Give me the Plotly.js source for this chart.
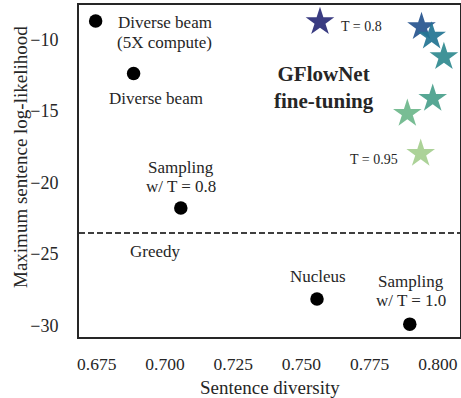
<!DOCTYPE html>
<html>
<head>
<meta charset="utf-8">
<script src="https://cdn.plot.ly/plotly-3.0.1.min.js"></script>
<style>
  html, body { margin: 0; padding: 0; background: #ffffff; }
  #chart { width: 461px; height: 398px; }
</style>
</head>
<body>
<div id="chart"></div>
<script>
// ---- data ----
const baseNames = ['Diverse beam<br>(5X compute)', 'Diverse beam', 'Sampling<br>w/ T = 0.8', 'Nucleus', 'Sampling<br>w/ T = 1.0'];
const baseX = [0.6746, 0.6885, 0.7058, 0.7557, 0.7897];
const baseY = [-8.71, -12.38, -21.78, -28.15, -29.90];
const greedyY = -23.53;
const greedyName = 'Greedy';
const gfnX = [0.7568, 0.7940, 0.7977, 0.8022, 0.7981, 0.7888, 0.7937];
const gfnY = [-8.77, -9.12, -9.78, -11.22, -14.13, -15.18, -17.98];
const gfnTemps = ['T = 0.8', '', '', '', '', '', 'T = 0.95'];
const gfnTitle = 'GFlowNet<br>fine-tuning';
const xTickVals = [0.675, 0.700, 0.725, 0.750, 0.775, 0.800];
const xTickText = ['0.675', '0.700', '0.725', '0.750', '0.775', '0.800'];
const yTickVals = [-10, -15, -20, -25, -30];
const yTickText = ['\u221210', '\u221215', '\u221220', '\u221225', '\u221230'];

// ---- styles ----
const FONT = 'Liberation Serif';
const TXT = '#262626';
const starColors = ['#2b2d78', '#28558f', '#237593', '#318b90', '#4aa08c', '#6eb88c', '#a6cf90'];
const baseLabelShift = [[69, -11], [22.5, -24.5], [0.5, 30.5], [1, 23], [1.7, 33]];
const baseLineGap = [20, 20, 19, 19, 18.5];
const tempLabelStyle = [
  {xanchor: 'left', xshift: 19.3, yshift: -4.8},
  null, null, null, null, null,
  {xanchor: 'right', xshift: -20.7, yshift: -5.7}
];

const traces = [
  {
    type: 'scatter', mode: 'markers', x: baseX, y: baseY,
    marker: {color: '#000000', size: 13.5, line: {width: 0}},
    hoverinfo: 'skip', showlegend: false, cliponaxis: false
  },
  {
    type: 'scatter', mode: 'markers', x: gfnX, y: gfnY,
    marker: {symbol: 'star', color: starColors, size: 21.5, opacity: 0.93, line: {width: 0}},
    hoverinfo: 'skip', showlegend: false, cliponaxis: false
  }
];

const annotations = [];
// multi-line text placed line by line to control the line spacing
function addLines(text, base, gap, xs, ys, font) {
  const lines = text.split('<br>');
  const n = lines.length;
  lines.forEach((ln, k) => {
    annotations.push(Object.assign({
      text: ln, showarrow: false, xanchor: 'center', yanchor: 'middle',
      xshift: xs, yshift: ys + (n - 1) / 2 * gap - k * gap, font: font
    }, base));
  });
}
baseNames.forEach((n, i) => {
  addLines(n, {x: baseX[i], y: baseY[i], xref: 'x', yref: 'y'}, baseLineGap[i],
    baseLabelShift[i][0], baseLabelShift[i][1], {family: FONT, size: 17, color: TXT});
});
annotations.push({
  x: 0.6964, y: greedyY, xref: 'x', yref: 'y', text: greedyName, showarrow: false,
  xanchor: 'center', yanchor: 'middle', yshift: -18.7,
  font: {family: FONT, size: 17, color: TXT}
});
gfnTemps.forEach((t, i) => {
  if (!t) return;
  const s = tempLabelStyle[i];
  annotations.push({
    x: gfnX[i], y: gfnY[i], xref: 'x', yref: 'y', text: t, showarrow: false,
    xanchor: s.xanchor, yanchor: 'middle', xshift: s.xshift, yshift: s.yshift,
    font: {family: FONT, size: 14, color: TXT}
  });
});
annotations.push({
  x: 0.643, y: 0.7515, xref: 'paper', yref: 'paper', text: gfnTitle, showarrow: false,
  xanchor: 'center', yanchor: 'middle',
  font: {family: FONT, size: 21, color: TXT, weight: 'bold'}
});
annotations.push({
  x: 0.5, y: -0.151, xref: 'paper', yref: 'paper', text: 'Sentence diversity', showarrow: false,
  xanchor: 'center', yanchor: 'middle',
  font: {family: FONT, size: 19, color: TXT}
});
annotations.push({
  x: -0.155, y: 0.542, xref: 'paper', yref: 'paper', text: 'Maximum sentence log-likelihood', showarrow: false,
  xanchor: 'center', yanchor: 'middle', textangle: -90,
  font: {family: FONT, size: 19, color: TXT}
});

const layout = {
  width: 461, height: 398,
  margin: {l: 79, r: 1, t: 5, b: 61, pad: 0},
  paper_bgcolor: '#ffffff', plot_bgcolor: '#ffffff',
  font: {family: FONT, color: TXT},
  xaxis: {
    range: [0.6685, 0.8081], tickvals: xTickVals, ticktext: xTickText,
    showgrid: false, zeroline: false, ticks: '',
    showline: true, mirror: true, linecolor: TXT, linewidth: 2,
    tickfont: {family: FONT, size: 17.5, color: TXT}, ticklabelstandoff: 10
  },
  yaxis: {
    range: [-30.80, -7.59], tickvals: yTickVals, ticktext: yTickText,
    showgrid: false, zeroline: false, ticks: '',
    showline: true, mirror: true, linecolor: TXT, linewidth: 2,
    tickfont: {family: FONT, size: 18, color: TXT}, ticklabelstandoff: 15
  },
  shapes: [{
    type: 'line', xref: 'paper', yref: 'y', x0: 0, x1: 1, y0: greedyY, y1: greedyY,
    line: {color: '#000000', width: 1.5, dash: '6px,3px'}
  }],
  annotations: annotations
};

Plotly.newPlot('chart', traces, layout, {displayModeBar: false, staticPlot: true});
</script>
</body>
</html>
